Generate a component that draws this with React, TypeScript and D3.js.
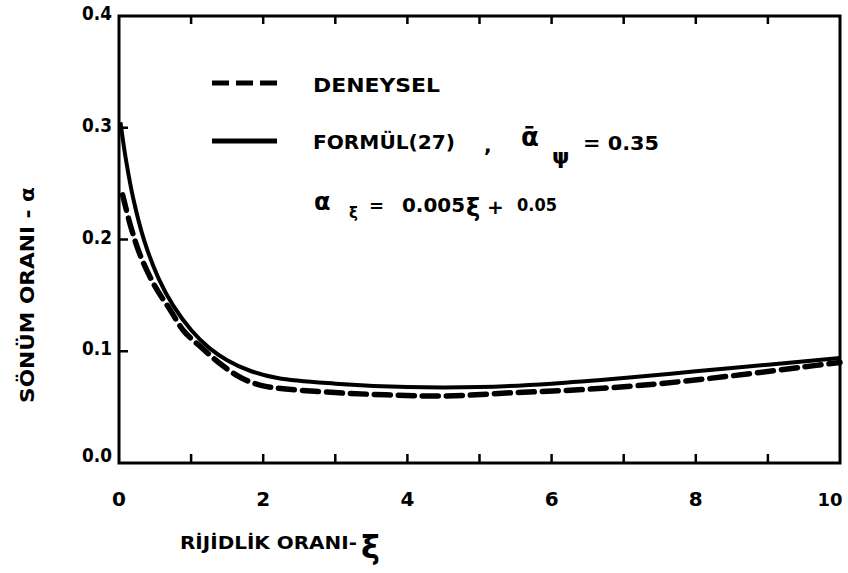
import React from 'react';
import * as d3 from 'd3';

// FORMÜL(27) curve
const xiSolid = [0.02, 0.1, 0.2, 0.35, 0.55, 0.75, 1.0, 1.25, 1.5, 1.8, 2.2, 3.0, 4.0, 5.0, 6.0, 7.0, 8.0, 9.0, 10.0];
const solidVals = [0.305, 0.270, 0.236, 0.199, 0.165, 0.141, 0.119, 0.103, 0.092, 0.083, 0.076, 0.071, 0.068, 0.068, 0.071, 0.076, 0.082, 0.088, 0.094];

// DENEYSEL curve
const xiDashed = [0.05, 0.17, 0.3, 0.5, 0.7, 0.9, 1.15, 1.4, 1.7, 2.0, 2.35, 3.0, 3.7, 4.5, 5.5, 6.5, 7.5, 8.5, 9.5, 10.0];
const dashedVals = [0.240, 0.210, 0.185, 0.158, 0.138, 0.118, 0.103, 0.089, 0.076, 0.069, 0.066, 0.063, 0.061, 0.060, 0.063, 0.066, 0.071, 0.078, 0.086, 0.090];

const xTickLabels = ['0', '2', '4', '6', '8', '10'];
const yTickLabels = ['0.0', '0.1', '0.2', '0.3', '0.4'];

const W = 848;
const H = 573;
const FONT = '"DejaVu Sans", "Liberation Sans", sans-serif';

export default function App() {
  const x = d3.scaleLinear().domain([0, 10]).range([119, 840]);
  const y = d3.scaleLinear().domain([0, 0.4]).range([463, 16]);

  const line = d3.line<[number, number]>()
    .x(d => x(d[0]))
    .y(d => y(d[1]))
    .curve(d3.curveCatmullRom.alpha(0.5));

  const solidPts = xiSolid.map((v, i) => [v, solidVals[i]] as [number, number]);
  const dashedPts = xiDashed.map((v, i) => [v, dashedVals[i]] as [number, number]);

  const minorX = d3.range(1, 10);
  const yTicks = [0.1, 0.2, 0.3];

  return (
    <div style={{ position: 'absolute', left: 0, top: 0 }}>
      <svg width={W} height={H} style={{ display: 'block', background: '#fff' }}>
        {/* frame */}
        <rect x={x(0)} y={y(0.4)} width={x(10) - x(0)} height={y(0) - y(0.4)}
          fill="none" stroke="#000" strokeWidth={3} />

        {/* ticks */}
        {minorX.map(t => (
          <g key={'xt' + t}>
            <line x1={x(t)} x2={x(t)} y1={y(0)} y2={y(0) - 9} stroke="#000" strokeWidth={2.5} />
            <line x1={x(t)} x2={x(t)} y1={y(0.4)} y2={y(0.4) + 8} stroke="#000" strokeWidth={2.5} />
          </g>
        ))}
        {yTicks.map(t => (
          <line key={'yt' + t} x1={x(0)} x2={x(0) + 9} y1={y(t)} y2={y(t)} stroke="#000" strokeWidth={2.5} />
        ))}

        {/* tick labels */}
        {xTickLabels.map(l => (
          <text key={'xl' + l} x={l === '10' ? 830 : x(+l)} y={506} textAnchor="middle"
            fontFamily={FONT} fontWeight="bold" fontSize={l === '10' ? 18 : 20}>{l}</text>
        ))}
        {yTickLabels.map(l => (
          <text key={'yl' + l} x={x(0) - 7} y={y(+l) + (l === '0.0' ? -1 : 4)} textAnchor="end"
            fontFamily={FONT} fontWeight="bold" fontSize={19}
            textLength={30} lengthAdjust="spacingAndGlyphs">{l}</text>
        ))}

        {/* curves */}
        <path d={line(dashedPts) || ''} fill="none" stroke="#000" strokeWidth={5.5}
          strokeDasharray="16 8" strokeLinecap="round" />
        <path d={line(solidPts) || ''} fill="none" stroke="#000" strokeWidth={4} />

        {/* legend */}
        <line x1={212} x2={277} y1={83} y2={83} stroke="#000" strokeWidth={5} strokeDasharray="17 7" />
        <text x={313} y={92} fontFamily={FONT} fontWeight="bold" fontSize={19}
          textLength={127} lengthAdjust="spacingAndGlyphs">DENEYSEL</text>
        <line x1={212} x2={277} y1={141} y2={141} stroke="#000" strokeWidth={5} />
        <text x={313} y={149} fontFamily={FONT} fontWeight="bold" fontSize={19}
          textLength={142} lengthAdjust="spacingAndGlyphs">FORMÜL(27)</text>
        <text x={484} y={152} fontFamily={FONT} fontWeight="bold" fontSize={20}>,</text>
        <text x={521} y={146} fontFamily={FONT} fontWeight="bold" fontSize={26}>ᾱ</text>
        <text x={552} y={164} fontFamily={FONT} fontWeight="bold" fontSize={22}>ψ</text>
        <text x={583} y={150} fontFamily={FONT} fontWeight="bold" fontSize={19}
          textLength={76} lengthAdjust="spacingAndGlyphs">= 0.35</text>

        <text x={314} y={210} fontFamily={FONT} fontWeight="bold" fontSize={24}>α</text>
        <text x={349} y={218} fontFamily={FONT} fontWeight="bold" fontSize={15}>ξ</text>
        <text x={369} y={212} fontFamily={FONT} fontWeight="bold" fontSize={18}>=</text>
        <text x={402} y={212} fontFamily={FONT} fontWeight="bold" fontSize={19}
          textLength={63} lengthAdjust="spacingAndGlyphs">0.005</text>
        <text x={466} y={216} fontFamily={FONT} fontWeight="bold" fontSize={24}>ξ</text>
        <text x={487} y={214} fontFamily={FONT} fontWeight="bold" fontSize={20}>+</text>
        <text x={517} y={211} fontFamily={FONT} fontWeight="bold" fontSize={18}
          textLength={40} lengthAdjust="spacingAndGlyphs">0.05</text>

        {/* axis titles */}
        <text transform="translate(34,295) rotate(-90)" textAnchor="middle"
          fontFamily={FONT} fontWeight="bold" fontSize={20}
          textLength={216} lengthAdjust="spacingAndGlyphs">SÖNÜM ORANI - α</text>
        <text x={180} y={549} fontFamily={FONT} fontWeight="bold" fontSize={18}
          textLength={177} lengthAdjust="spacingAndGlyphs">RİJİDLİK ORANI-</text>
        <text x={361} y={558} fontFamily={FONT} fontWeight="bold" fontSize={32}>ξ</text>
      </svg>
    </div>
  );
}
